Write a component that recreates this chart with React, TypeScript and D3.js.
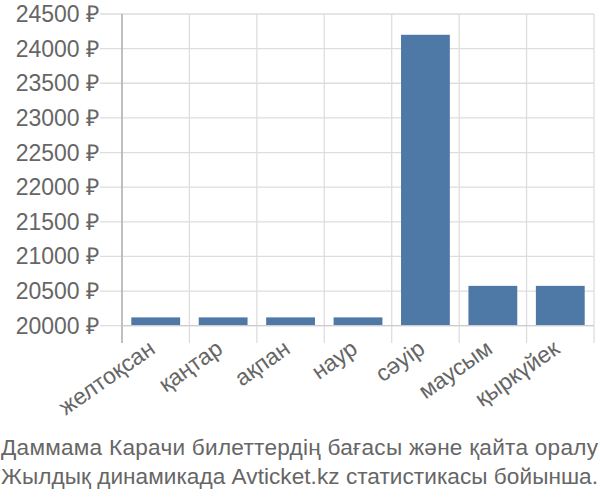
import React from "react";
import * as d3 from "d3";

const months = ["желтоқсан", "қаңтар", "ақпан", "наур", "сәуір", "маусым", "қыркүйек"];
const prices = [20120, 20120, 20120, 20120, 24200, 20575, 20575];
const yTicks = [20000, 20500, 21000, 21500, 22000, 22500, 23000, 23500, 24000, 24500];
const captionLines = [
  "Даммама Карачи билеттердің бағасы және қайта оралу",
  "Жылдық динамикада Avticket.kz статистикасы бойынша.",
];

const W = 600;
const H = 500;
const left = 122;
const right = 594;
const top = 14;
const bottom = 325.7;
const font = "'Liberation Sans', Arial, sans-serif";
const textColor = "#666";

export default function App() {
  const x = d3.scaleBand<string>().domain(months).range([left, right]).padding(0);
  const y = d3.scaleLinear().domain([20000, 24500]).range([bottom, top]);
  const inset = 9.3;
  return (
    <div style={{ position: "absolute", left: 0, top: 0 }}>
      <svg width={W} height={H} style={{ display: "block" }}>
        {/* horizontal grid */}
        {yTicks.map((t) => (
          <line key={"h" + t} x1={100} x2={right} y1={y(t)} y2={y(t)} stroke="#ddd" strokeWidth={1.3} />
        ))}
        {/* vertical grid */}
        {[...months.map((m) => x(m)!), right].map((v, i) => (
          <line key={"v" + i} x1={v} x2={v} y1={top} y2={343} stroke="#ddd" strokeWidth={1.3} />
        ))}
        {/* bars */}
        {months.map((m, i) => (
          <rect
            key={m}
            x={x(m)! + inset}
            width={x.bandwidth() - 2 * inset}
            y={y(prices[i])}
            height={y(20000) - y(prices[i])}
            fill="#4e79a7"
          />
        ))}
        {/* axis lines */}
        <line x1={left} x2={left} y1={top} y2={343} stroke="#aaa" strokeWidth={1.3} />
        <line x1={left} x2={right} y1={bottom} y2={bottom} stroke="#ccc" strokeWidth={1.3} />
        {/* y labels */}
        {yTicks.map((t) => (
          <text
            key={"yl" + t}
            x={99}
            y={y(t)}
            dy="0.35em"
            textAnchor="end"
            fontFamily={font}
            fontSize={23}
            fill={textColor}
          >
            {`${t} ₽`}
          </text>
        ))}
        {/* x labels */}
        {months.map((m) => {
          const cx = x(m)! + x.bandwidth() / 2;
          return (
            <text
              key={"xl" + m}
              transform={`translate(${cx + 1},${352}) rotate(-35)`}
              textAnchor="end"
              fontFamily={font}
              fontSize={23}
              fill={textColor}
            >
              {m}
            </text>
          );
        })}
        {/* caption */}
        {captionLines.map((l, i) => (
          <text
            key={"c" + i}
            x={1}
            y={455 + i * 29}
            textLength={597}
            lengthAdjust="spacing"
            fontFamily={font}
            fontSize={22.6}
            fill={textColor}
          >
            {l}
          </text>
        ))}
      </svg>
    </div>
  );
}
